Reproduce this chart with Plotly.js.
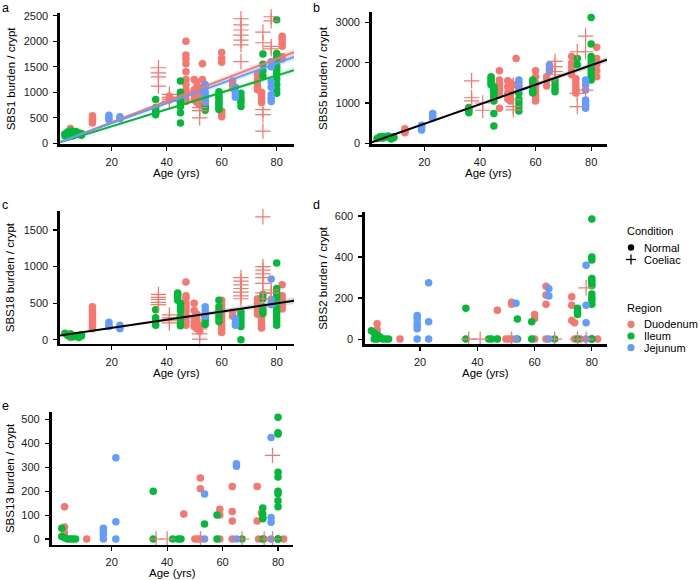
<!DOCTYPE html>
<html><head><meta charset="utf-8">
<script src="https://cdn.plot.ly/plotly-3.0.1.min.js"></script>
<style>body{margin:0;background:#fff}#chart{width:700px;height:580px}</style>
</head><body><div id="chart"></div>
<script>
// ---------- DATA ----------
const regions = ['Duodenum','Ileum','Jejunum'];
const conditions = ['Normal','Coeliac'];
const xTicks = [20,40,60,80];

// a: SBS1
const aDuoAge = [5,5,5, 13,13,13,13, 41,41,41, 47,47,47,47,47,47,47,47,47,47,47, 50,50,50,50, 51,51,51,51,51, 52,52,52, 53,53,53, 60,60,60,60,60,60, 64,64,64, 73,73,73,73,73, 74.5,74.5,74.5,74.5,74.5, 82,82,82,82,82,82];
const aDuoVal = [290,220,180, 540,480,440,400, 920,880,850, 2000,1730,1650,1560,1400,1250,1150,1050,960,880,820, 1250,1050,950,850, 1200,1100,1000,900,800, 1000,900,750, 1560,1250,1100, 1780,1660,1590,630,560,520, 1220,1150,1080, 1350,1250,1150,1100,1050, 1000,950,900,850,800, 2100,2040,1960,1900,1700,1650];
const aIleAge = [3,3,4,4,4,5,5,5,6,6,7,7,8,8,9,9, 36,36,36,36,36, 45,45,45,45,45,45,45,45,45,45, 54,54,54,54, 59,59,59,59,59,59,59,59, 67,67,67,67,67, 75,75,75,75, 80,80,80,80,80,80,80,80,80,80,80,80,80,80];
const aIleVal = [180,150,200,220,170,190,240,160,210,150,180,230,170,200,160,190, 860,700,650,600,560, 1220,1000,950,900,860,820,780,720,600,400, 720,650,800,700, 1010,950,900,850,800,760,700,660, 980,900,850,800,720, 1750,1550,1420,1320, 2420,1760,1720,1680,1640,1580,1520,1480,1420,1350,1250,1150,1050,980];
const aJejAge = [19,19,19, 23,23, 54,54,54,54,54,54,54, 65,65,65,65, 78,78,78,78,78,78,78];
const aJejVal = [550,500,460, 520,480, 1150,1100,1000,950,900,850,800, 1100,1000,950,900, 1600,1500,1200,1100,950,880,820];
const aCoeAge = [37,37,37,37, 41,41,41,41, 52,52,52,52, 67,67,67,67,67,67,67, 75,75,75,75,75, 78,78,78,78];
const aCoeVal = [1480,1380,1300,1120, 960,900,860,820, 800,700,640,500, 2440,2320,2220,2120,2020,1930,1600, 2180,1970,660,560,240, 2480,2400,1900,1850];
const aFitSlope = [20.7, 16.6, 19.6];   // Duodenum, Ileum, Jejunum
const aFitBand = [0.8, 0.6, 0.8];

// b: SBS5
const bDuoAge = [5,5, 13,13,13,13, 47,47,47,47,47,47,47,47, 50,50,50,50, 51,51,51,51, 53,53, 60,60,60,60,60,60,60,60, 64,64,64, 73,73,73,73,73, 74.5,74.5,74.5,74.5,74.5, 82,82,82,82,82];
const bDuoVal = [150,130, 360,320,290,260, 1800,1570,1500,1450,1400,1300,1200,870, 1550,1400,1250,1100, 1500,1350,1200,1050, 2100,1450, 1800,1650,1500,1400,1300,1200,1100,1050, 1650,1550,1420, 2150,2000,1900,1800,1700, 1600,1500,1400,1320,1250, 2380,2100,1950,1800,1650];
const bIleAge = [3,4,4,5,5,6,7,8,9,9, 36,36,36,36, 44,44,44,44,44,45,45,45,45,45,45,45,45,45,45, 54,54,54,54,54, 59,59,59,59,59, 67,67,67,67, 75,75, 80,80,80,80,80,80,80,80,80];
const bIleVal = [120,140,160,130,170,150,180,110,140,160, 890,850,800,760, 1650,1600,1550,1500,1450,1400,1350,1300,1250,1200,1150,1100,1050,740,430, 1240,1100,1000,900,800, 1570,1500,1400,1300,1250, 1550,1450,1350,1280, 2100,1950, 3120,2460,2150,2050,1950,1850,1750,1650,1570];
const bJejAge = [19,19,19,19, 23,23,23, 54,54,54,54, 65,65,65, 78,78,78,78,78,78,78];
const bJejVal = [450,420,380,330, 740,680,620, 1570,1500,1420,1350, 1940,1850,1780, 1570,1450,1320,1075,1000,930,870];
const bCoeAge = [37,37,37, 41,41, 52,52,52,52, 67,67,67,67, 75,75,75, 78,78,78];
const bCoeVal = [1550,1130,1050, 1000,820, 1450,1080,910,830, 2030,1900,1780,1700, 2270,1240,910, 2660,2270,1320];
const bFit = [0, 24.2, 0.8];   // intercept, slope, band

// c: SBS18
const cDuoAge = [5,5,5, 13,13,13,13,13,13,13, 47,47,47,47,47,47,47,47,47,47, 50,50,50,50,50, 51,51,51,51, 52,52, 60,60,60,60,60,60,60,60,60, 64,64, 73,73,73,73,73, 74.5,74.5,74.5,74.5, 82,82,82,82,82,82];
const cDuoVal = [80,50,30, 450,400,350,300,250,200,150, 790,600,570,500,450,400,350,300,250,200, 500,400,300,250,180, 350,280,220,150, 200,120, 540,480,420,360,300,250,200,150,100, 380,320, 560,500,450,400,350, 300,250,200,160, 750,600,550,500,450,420];
const cIleAge = [3,4,4,5,5,6,7,8,9,9, 36,36,36,36, 44,44,44,44,45,45,45,45,45,45,45, 54,54,54, 59,59,59,59,59,59, 67,67,67,67,67,67, 75,75,75,75,75, 80,80,80,80,80,80,80,80,80,80,80,80];
const cIleVal = [90,70,60,50,80,40,60,30,70,50, 410,300,250,200, 640,620,580,540,500,450,400,320,280,220,190, 310,260,210, 540,450,400,350,300,250, 380,330,280,230,180,0, 620,560,450,400,360, 1050,700,650,600,550,500,450,400,350,300,250,200];
const cJejAge = [19,19,19, 23,23,23, 54,54,54,54, 65,65,65, 78,78,78];
const cJejVal = [240,200,180, 200,170,150, 450,400,350,320, 290,230,200, 830,550,480];
const cCoeAge = [37,37,37,37,37, 41,41,41,41, 52,52,52, 67,67,67,67,67,67,67, 75,75,75,75,75,75,75,75, 78,78];
const cCoeVal = [620,580,550,510,480, 340,300,260,230, 150,80,10, 850,800,750,700,650,600,560, 1680,1000,950,900,850,770,640,560, 680,640];
const cFit = [50, 5.6, 0.5];

// d: SBS2
const dDuoAge = [5,5,5,5, 13, 47,47, 50,51,52,52,52, 60,60,60, 64,64,64,64, 73,73,73,74,74,76, 80,82];
const dDuoVal = [75,45,30,0, 0, 140,0, 0,0,180,170,0, 120,100,0, 258,215,170,0, 206,165,90,80,0,0, 0,0];
const dIleAge = [3,4,5,6,7,8,9,4,5, 36,36, 44,45,47, 54,54, 59,59, 67, 75,75,75,75, 80,80,80,80,80,80,80,80,80,80,80,80,80];
const dIleVal = [40,30,20,10,0,0,0,0,0, 150,0, 0,0,0, 98,0, 85,0, 0, 150,135,120,0, 585,400,385,295,285,270,260,220,200,190,170,0,0];
const dJejAge = [19,19,19,19,19,19, 23,23,23, 53.5,53.5, 65,65,65, 78,78,78,78];
const dJejVal = [115,100,80,65,50,0, 275,85,0, 175,0, 245,210,0, 360,165,80,0];
const dCoeAge = [37,41,52,67,75,78,78];
const dCoeVal = [0,0,0,0,0,250,0];

// e: SBS13
const eDuoAge = [3,3,3, 11, 46, 50,51,52,52,52, 59,59,59, 63.5,63.5,63.5,63.5, 72.5,72.5,74,73,75, 82];
const eDuoVal = [135,50,25, 0, 105, 0,0,255,210,0, 125,100,0, 220,115,75,0, 220,75,110,0,0, 0];
const eIleAge = [2,2,3,4,5,6,7, 35,35, 42,44,45, 53.5, 58,58, 67, 74.5,74.5,74.5,74.5,74.5, 80,80,80,80,80,80,80,80,80,80,80];
const eIleVal = [45,10,5,0,0,0,0, 200,0, 0,0,0, 63, 100,0, 0, 130,105,90,85,0, 510,445,440,280,260,200,190,160,135,0,0];
const eJejAge = [17,17,17,17, 21.5,21.5,21.5, 53.5,53.5, 65,65,65, 77.5,77.5,77.5,77.5];
const eJejVal = [45,30,20,0, 340,72,0, 188,0, 315,305,0, 425,90,70,0];
const eCoeAge = [36,40,52,67,75,78,78];
const eCoeVal = [0,0,0,0,0,350,0];

// ---------- STYLE ----------
const COL = {Duodenum:'#F8766D', Ileum:'#00BA38', Jejunum:'#619CFF'};
const FILL = {Duodenum:'rgba(248,118,109,0.2)', Ileum:'rgba(0,186,56,0.15)', Jejunum:'rgba(97,156,255,0.2)'};
const FONT = 'Liberation Sans, Arial, Helvetica, sans-serif';
const W = 700, H = 580;
const px = v => v / W, py = v => 1 - v / H;

const panels = [
  {k:'a', title:'SBS1 burden / crypt', xd:[60,294], yd:[12.7,144], xr:[1.2,86.3], yr:[-13.7,2559], yt:[0,500,1000,1500,2000,2500],
   d:[[aDuoAge,aDuoVal],[aIleAge,aIleVal],[aJejAge,aJejVal],[aCoeAge,aCoeVal]], lx:1, ly:8, tx:11, ax:176, ay:173},
  {k:'b', title:'SBS5 burden / crypt', xd:[371.8,607], yd:[12,144], xr:[1.1,85.7], yr:[-17,3256], yt:[0,1000,2000,3000],
   d:[[bDuoAge,bDuoVal],[bIleAge,bIleVal],[bJejAge,bJejVal],[bCoeAge,bCoeVal]], lx:312, ly:8, tx:323, ax:488.5, ay:173},
  {k:'c', title:'SBS18 burden / crypt', xd:[60,294], yd:[210.7,343.8], xr:[1.2,86.3], yr:[-55,1763], yt:[0,500,1000,1500],
   d:[[cDuoAge,cDuoVal],[cIleAge,cIleVal],[cJejAge,cJejVal],[cCoeAge,cCoeVal]], lx:1, ly:205, tx:10, ax:176, ay:373},
  {k:'d', title:'SBS2 burden / crypt', xd:[365,607], yd:[211.7,344], xr:[0.77,85.3], yr:[-24,621], yt:[0,200,400,600],
   d:[[dDuoAge,dDuoVal],[dIleAge,dIleVal],[dJejAge,dJejVal],[dCoeAge,dCoeVal]], lx:312, ly:205, tx:323, ax:485, ay:373},
  {k:'e', title:'SBS13 burden / crypt', xd:[51.5,293], yd:[411.7,544.5], xr:[-1.7,85.4], yr:[-23,533], yt:[0,100,200,300,400,500],
   d:[[eDuoAge,eDuoVal],[eIleAge,eIleVal],[eJejAge,eJejVal],[eCoeAge,eCoeVal]], lx:1, ly:406, tx:10, ax:172, ay:572.5}
];

const traces = [];
const layout = {width:W, height:H, margin:{l:0,r:0,t:0,b:0}, paper_bgcolor:'#fff', plot_bgcolor:'rgba(0,0,0,0)',
  showlegend:false, font:{family:FONT, size:11, color:'#000'}, annotations:[], shapes:[]};

function ann(text, x, y, opt) {
  layout.annotations.push(Object.assign({text, x:px(x), y:py(y), xref:'paper', yref:'paper', showarrow:false,
    xanchor:'center', yanchor:'middle', borderpad:0, font:{family:FONT, size:11.5, color:'#000'}}, opt || {}));
}

panels.forEach((p, i) => {
  const n = i === 0 ? '' : String(i + 1);
  const xa = 'x' + n, ya = 'y' + n;
  const axBase = {showgrid:false, zeroline:false, showline:true, linewidth:2.6, linecolor:'#000', ticks:'outside',
    ticklen:4, tickwidth:1.1, tickcolor:'#000', tickfont:{family:FONT, size:11, color:'#1a1a1a'}, fixedrange:true};
  layout['xaxis' + n] = Object.assign({}, axBase, {domain:[px(p.xd[0]), px(p.xd[1])], range:p.xr, anchor:ya,
    tickmode:'array', tickvals:xTicks, ticklabelstandoff:2});
  layout['yaxis' + n] = Object.assign({}, axBase, {domain:[py(p.yd[1]), py(p.yd[0])], range:p.yr, anchor:xa,
    tickmode:'array', tickvals:p.yt, ticklabelstandoff:3});
  regions.forEach((r, j) => {
    traces.push({type:'scatter', mode:'markers', x:p.d[j][0], y:p.d[j][1], xaxis:xa, yaxis:ya, cliponaxis:false,
      marker:{symbol:'circle', size:7.5, color:COL[r], line:{width:0}}, hoverinfo:'skip'});
  });
  traces.push({type:'scatter', mode:'markers', x:p.d[3][0], y:p.d[3][1], xaxis:xa, yaxis:ya, cliponaxis:false,
    marker:{symbol:'cross-thin', size:11, color:COL.Duodenum, line:{width:1.2, color:COL.Duodenum}}, hoverinfo:'skip'});
  const fits = [];
  if (p.k === 'a') regions.forEach((r, j) => fits.push({b0:0, b1:aFitSlope[j], k:aFitBand[j], line:COL[r], fill:FILL[r]}));
  if (p.k === 'b') fits.push({b0:bFit[0], b1:bFit[1], k:bFit[2], line:'#000', fill:'rgba(153,153,153,0.35)'});
  if (p.k === 'c') fits.push({b0:cFit[0], b1:cFit[1], k:cFit[2], line:'#000', fill:'rgba(153,153,153,0.35)'});
  fits.forEach(f => {
    const x0 = p.xr[0], x1 = p.xr[1];
    const yl = x => f.b0 + f.b1 * x;
    traces.push({type:'scatter', mode:'lines', x:[x0, x1, x1, x0], y:[yl(x0)+f.k*x0, yl(x1)+f.k*x1, yl(x1)-f.k*x1, yl(x0)-f.k*x0],
      fill:'toself', fillcolor:f.fill, line:{width:0}, xaxis:xa, yaxis:ya, hoverinfo:'skip'});
    traces.push({type:'scatter', mode:'lines', x:[x0, x1], y:[yl(x0), yl(x1)], line:{color:f.line, width:2},
      xaxis:xa, yaxis:ya, hoverinfo:'skip'});
  });
  ann(p.k, p.lx, p.ly, {xanchor:'left', font:{family:FONT, size:12.5, color:'#000'}});
  ann(p.title, p.tx, (p.yd[0] + p.yd[1]) / 2, {textangle:-90});
  ann('Age (yrs)', p.ax, p.ay);
});

// legend (drawn manually, ggplot-style)
const legFont = {family:FONT, size:11, color:'#000'};
ann('Condition', 626, 231.5, {xanchor:'left', font:legFont});
ann('Normal', 642.5, 247.5, {xanchor:'left', font:legFont});
ann('Coeliac', 642.5, 259.5, {xanchor:'left', font:legFont});
ann('Region', 626, 307.5, {xanchor:'left', font:legFont});
const regY = [324.3, 336, 347.7];
regions.forEach((r, j) => ann(r, 642.5, regY[j], {xanchor:'left', font:legFont}));
const sx = 631;
const circ = (cx, cy, r, c) => ({type:'circle', xref:'paper', yref:'paper', x0:px(cx-r), x1:px(cx+r), y0:py(cy+r), y1:py(cy-r),
  fillcolor:c, line:{width:0}});
layout.shapes.push(circ(sx, 247.5, 3.2, '#000'));
layout.shapes.push({type:'line', xref:'paper', yref:'paper', x0:px(sx-5), x1:px(sx+5), y0:py(259.5), y1:py(259.5), line:{color:'#000', width:1.3}});
layout.shapes.push({type:'line', xref:'paper', yref:'paper', x0:px(sx), x1:px(sx), y0:py(254.5), y1:py(264.5), line:{color:'#000', width:1.3}});
regions.forEach((r, j) => layout.shapes.push(circ(sx, regY[j], 3.6, COL[r])));

Plotly.newPlot('chart', traces, layout, {staticPlot:true, displayModeBar:false});
</script>
</body></html>
